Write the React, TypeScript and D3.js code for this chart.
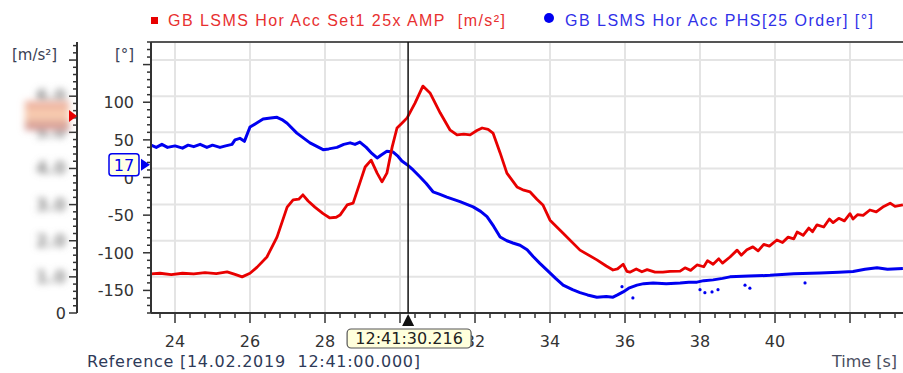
import React, { useEffect } from 'react';
import * as d3 from 'd3';

// time [s] / amplitude (left axis units, labels are blurred in the source)
const redTime = [23.36, 23.6, 23.9, 24.2, 24.5, 24.8, 25.1, 25.39, 25.6, 25.79, 26.0, 26.19, 26.45, 26.72, 26.99, 27.15, 27.3, 27.41, 27.55, 27.73, 27.95, 28.13, 28.3, 28.4, 28.59, 28.75, 28.93, 29.07, 29.23, 29.39, 29.52, 29.65, 29.79, 29.92, 30.05, 30.19, 30.4, 30.61, 30.8, 31.07, 31.33, 31.52, 31.7, 31.87, 32.05, 32.19, 32.35, 32.48, 32.67, 32.85, 33.12, 33.3, 33.47, 33.65, 33.81, 34.0, 34.35, 34.8, 35.25, 35.5, 35.68, 35.8, 35.95, 36.05, 36.13, 36.3, 36.45, 36.59, 36.8, 37.01, 37.2, 37.47, 37.6, 37.75, 37.92, 38.1, 38.2, 38.35, 38.5, 38.6, 38.8, 38.99, 39.1, 39.25, 39.41, 39.55, 39.7, 39.85, 40.05, 40.2, 40.35, 40.5, 40.59, 40.75, 40.9, 41.0, 41.12, 41.3, 41.45, 41.55, 41.7, 41.85, 42.0, 42.08, 42.2, 42.35, 42.53, 42.7, 42.9, 43.07, 43.2, 43.41];
const redAmp = [1.08, 1.1, 1.06, 1.1, 1.08, 1.12, 1.09, 1.14, 1.07, 1.0, 1.1, 1.27, 1.55, 2.1, 2.93, 3.13, 3.15, 3.27, 3.1, 2.93, 2.75, 2.63, 2.65, 2.71, 2.99, 3.04, 3.6, 4.04, 4.23, 3.87, 3.63, 3.87, 4.59, 5.12, 5.25, 5.4, 5.81, 6.28, 6.09, 5.54, 5.07, 4.93, 4.95, 4.93, 5.05, 5.12, 5.08, 4.98, 4.43, 3.87, 3.49, 3.4, 3.35, 3.15, 2.99, 2.57, 2.21, 1.74, 1.47, 1.3, 1.19, 1.22, 1.35, 1.15, 1.13, 1.22, 1.14, 1.2, 1.13, 1.13, 1.15, 1.16, 1.25, 1.18, 1.33, 1.28, 1.45, 1.35, 1.5, 1.38, 1.55, 1.74, 1.6, 1.75, 1.83, 1.72, 1.9, 1.85, 2.02, 1.95, 2.1, 2.05, 2.24, 2.15, 2.35, 2.25, 2.44, 2.38, 2.6, 2.5, 2.62, 2.55, 2.75, 2.6, 2.72, 2.7, 2.85, 2.8, 2.95, 3.04, 2.95, 2.99];

// time [s] / phase [°]
const blueTime = [23.36, 23.5, 23.65, 23.8, 24.0, 24.2, 24.35, 24.5, 24.67, 24.85, 25.0, 25.2, 25.35, 25.52, 25.6, 25.73, 25.85, 26.0, 26.2, 26.35, 26.55, 26.72, 26.85, 26.99, 27.25, 27.6, 27.95, 28.1, 28.32, 28.5, 28.67, 28.8, 28.93, 29.1, 29.25, 29.39, 29.5, 29.65, 29.81, 29.95, 30.05, 30.19, 30.35, 30.53, 30.7, 30.88, 31.05, 31.25, 31.6, 31.95, 32.15, 32.32, 32.5, 32.67, 32.85, 33.01, 33.2, 33.39, 33.55, 33.73, 33.92, 34.15, 34.35, 34.6, 34.8, 35.0, 35.25, 35.5, 35.68, 35.8, 35.95, 36.1, 36.32, 36.5, 36.75, 37.1, 37.47, 37.7, 37.92, 38.1, 38.35, 38.6, 38.8, 39.3, 39.87, 40.5, 41.2, 41.7, 42.08, 42.4, 42.72, 43.0, 43.41];
const bluePhase = [43, 40, 44, 40, 42, 39, 43, 41, 44, 40, 43, 40, 42, 44, 50, 52, 48, 67, 73, 77.7, 79, 80, 77, 72, 59, 46, 37, 38, 40, 44, 46, 44, 47, 40, 32, 26, 30, 35, 34, 28, 22, 17, 10, 1, -8, -19, -22, -26, -32, -39, -45, -52, -65, -79, -84, -87, -90, -96, -105, -114, -123, -134, -143, -149, -153, -156, -159, -158, -159, -156, -152, -147, -143, -141, -140, -141, -140, -139, -139, -137, -136, -134, -132, -131, -130, -128, -127, -126, -125, -122, -120, -122, -121];

// stray phase samples off the main trace
const blueDotTime = [35.92, 36.21, 38.0, 38.13, 38.32, 38.48, 39.2, 39.33, 40.8];
const blueDotPhase = [-145, -160, -149, -153, -152, -149, -143, -147, -140];

const xTickLabels = [24, 26, 28, 30, 32, 34, 36, 38, 40];
const phaseTickLabels = [-150, -100, -50, 0, 50, 100];
const ampTickLabels = [1, 2, 3, 4, 5, 6];

const cursorTime = 30.216;
const cursorPhase = 17;
const cursorText = '12:41:30.216';
const redName = 'GB LSMS Hor Acc Set1 25x AMP\u00a0\u00a0[m/s\u00b2]';
const blueName = 'GB LSMS Hor Acc PHS[25 Order] [\u00b0]';
const referenceText = 'Reference [14.02.2019\u00a0\u00a012:41:00.000]';

const W = 903;
const H = 373;
const plot = { left: 151, right: 903, top: 42, bottom: 313 };
const ampAxisX = 77;
const FONT = '"DejaVu Sans", Verdana, sans-serif';
const RED = '#e80000';
const BLUE = '#0000f0';

export default function App() {
  useEffect(() => {
    document.body.style.margin = '0';
  }, []);

  const x = d3.scaleLinear().domain([23.36, 43.413]).range([plot.left, plot.right]);
  const yPhase = d3.scaleLinear().domain([-180, 180]).range([plot.bottom, plot.top]);
  const yAmp = d3.scaleLinear().domain([0, 7.5]).range([plot.bottom, plot.top]);

  const redLine = d3.line<number>()
    .x((_, i) => x(redTime[i]))
    .y(d => yAmp(d));
  const blueLine = d3.line<number>()
    .x((_, i) => x(blueTime[i]))
    .y(d => yPhase(d));

  // amplitude value under the cursor
  const bi = d3.bisectLeft(redTime, cursorTime);
  const f = (cursorTime - redTime[bi - 1]) / (redTime[bi] - redTime[bi - 1]);
  const cursorAmp = redAmp[bi - 1] + f * (redAmp[bi] - redAmp[bi - 1]);

  const xMinor = d3.range(59, 109).map(k => ({ v: k * 0.4, major: k % 5 === 0 }));
  const phaseMinor = d3.range(-18, 19).map(k => ({ v: k * 10, major: k % 5 === 0 }));
  const ampMinor = d3.range(0, 38).map(k => ({ v: k * 0.2, major: k % 5 === 0 }));

  const cx = x(cursorTime);
  const ampY = yAmp(cursorAmp);
  const phY = yPhase(cursorPhase);

  return (
    <svg width={W} height={H} style={{ display: 'block', background: '#fff' }} fontFamily={FONT}>
      <defs>
        <clipPath id="plotClip">
          <rect x={plot.left} y={plot.top} width={plot.right - plot.left} height={plot.bottom - plot.top} />
        </clipPath>
        <filter id="blurLabel" x="-40%" y="-60%" width="180%" height="220%">
          <feGaussianBlur stdDeviation="3.6" />
        </filter>
        <linearGradient id="peach" x1="0" x2="0" y1="0" y2="1">
          <stop offset="0" stopColor="#e8a898" />
          <stop offset="0.5" stopColor="#fbd2b4" />
          <stop offset="1" stopColor="#c88888" />
        </linearGradient>
      </defs>

      {/* legend */}
      <rect x={151} y={17} width={7} height={7} fill={RED} />
      <text x={168} y={26} fontFamily="'Liberation Sans', Arial, sans-serif" fontSize={16} fill="#e83030"
        textLength={337} lengthAdjust="spacing">{redName}</text>
      <circle cx={549} cy={18} r={5} fill={BLUE} />
      <text x={565} y={26} fontFamily="'Liberation Sans', Arial, sans-serif" fontSize={16} fill="#3030e8"
        textLength={308} lengthAdjust="spacing">{blueName}</text>

      {/* grid */}
      <g stroke="#e4e4e4" strokeWidth={2}>
        {ampTickLabels.concat([7]).map(v => (
          <line key={'h' + v} x1={plot.left} x2={plot.right} y1={yAmp(v)} y2={yAmp(v)} />
        ))}
        {d3.range(24, 44, 2).map(v => (
          <line key={'v' + v} x1={x(v)} x2={x(v)} y1={plot.top} y2={plot.bottom} />
        ))}
      </g>

      {/* series */}
      <g clipPath="url(#plotClip)">
        <path d={blueLine(bluePhase) || ''} fill="none" stroke={BLUE} strokeWidth={3} strokeLinejoin="round" />
        {blueDotTime.map((t, i) => (
          <circle key={i} cx={x(t)} cy={yPhase(blueDotPhase[i])} r={1.6} fill={BLUE} />
        ))}
        <path d={redLine(redAmp) || ''} fill="none" stroke={RED} strokeWidth={2.8} strokeLinejoin="round" />
      </g>

      {/* frame */}
      <line x1={plot.left} x2={plot.right} y1={plot.top} y2={plot.top} stroke="#555" strokeWidth={2} />
      <line x1={plot.left} x2={plot.left} y1={plot.top} y2={plot.bottom} stroke="#333" strokeWidth={2} />
      <line x1={plot.left} x2={plot.right} y1={plot.bottom} y2={plot.bottom} stroke="#333" strokeWidth={2} />
      <line x1={ampAxisX} x2={ampAxisX} y1={plot.top} y2={plot.bottom} stroke="#333" strokeWidth={2} />

      {/* x ticks */}
      <g stroke="#333" strokeWidth={1.5}>
        {xMinor.map(t => (
          <line key={t.v} x1={x(t.v)} x2={x(t.v)} y1={plot.bottom} y2={plot.bottom + (t.major ? 10 : 5)} />
        ))}
      </g>
      <g fontSize={16} fill="#333" textAnchor="middle">
        {xTickLabels.map(v => (
          <text key={v} x={x(v)} y={347}>{v}</text>
        ))}
      </g>
      <text x={87} y={367} fontSize={16} fill="#2e3a58" textLength={333} lengthAdjust="spacing">{referenceText}</text>
      <text x={897} y={367} fontSize={16} fill="#4a4e60" textAnchor="end">Time [s]</text>

      {/* phase axis */}
      <g stroke="#333" strokeWidth={1.5}>
        {phaseMinor.map(t => (
          <line key={t.v} x1={plot.left - (t.major ? 8 : 4)} x2={plot.left} y1={yPhase(t.v)} y2={yPhase(t.v)} />
        ))}
      </g>
      <g fontSize={16} fill="#333" textAnchor="end">
        {phaseTickLabels.map(v => (
          <text key={v} x={134} y={yPhase(v) + 6}>{v}</text>
        ))}
      </g>
      <text x={115} y={60} fontSize={15} fill="#3a3f55">[°]</text>

      {/* amplitude axis */}
      <g stroke="#333" strokeWidth={1.5}>
        {ampMinor.map(t => (
          <line key={t.v} x1={ampAxisX - (t.major ? 8 : 4)} x2={ampAxisX} y1={yAmp(t.v)} y2={yAmp(t.v)} />
        ))}
      </g>
      <g fontSize={17} fontWeight="bold" fill="#888" textAnchor="end" filter="url(#blurLabel)">
        {ampTickLabels.map(v => (
          <text key={v} x={66} y={yAmp(v) + 6}>{d3.format('.1f')(v)}</text>
        ))}
      </g>
      <text x={66} y={319} fontSize={16} fill="#333" textAnchor="end">0</text>
      <text x={12} y={60} fontSize={15} fill="#3a3f55">[m/s²]</text>

      {/* amplitude cursor marker */}
      <rect x={25} y={ampY - 15} width={44} height={29} fill="url(#peach)" filter="url(#blurLabel)" />
      <path d={`M${ampAxisX},${ampY} L${ampAxisX - 8},${ampY - 6} L${ampAxisX - 8},${ampY + 6} Z`} fill={RED} />

      {/* cursor */}
      <line x1={cx} x2={cx} y1={plot.top} y2={plot.bottom} stroke="#111" strokeWidth={1.5} />
      <path d={`M${cx},${plot.bottom + 1} L${cx - 6},${plot.bottom + 13} L${cx + 6},${plot.bottom + 13} Z`} fill="#111" />
      <rect x={cx - 61} y={329} width={124} height={19} rx={4} fill="#ffffdc" stroke="#555" strokeWidth={1.2} />
      <text x={cx + 1} y={344} fontSize={16} fill="#222" textAnchor="middle">{cursorText}</text>

      {/* phase cursor marker */}
      <rect x={109} y={phY - 11} width={30} height={22} rx={3} fill="#ffffe6" stroke={BLUE} strokeWidth={1.5} />
      <text x={124} y={phY + 6} fontSize={16} fill={BLUE} textAnchor="middle">{cursorPhase}</text>
      <path d={`M${plot.left - 1},${phY} L${plot.left - 10},${phY - 6} L${plot.left - 10},${phY + 6} Z`} fill={BLUE} />
    </svg>
  );
}
